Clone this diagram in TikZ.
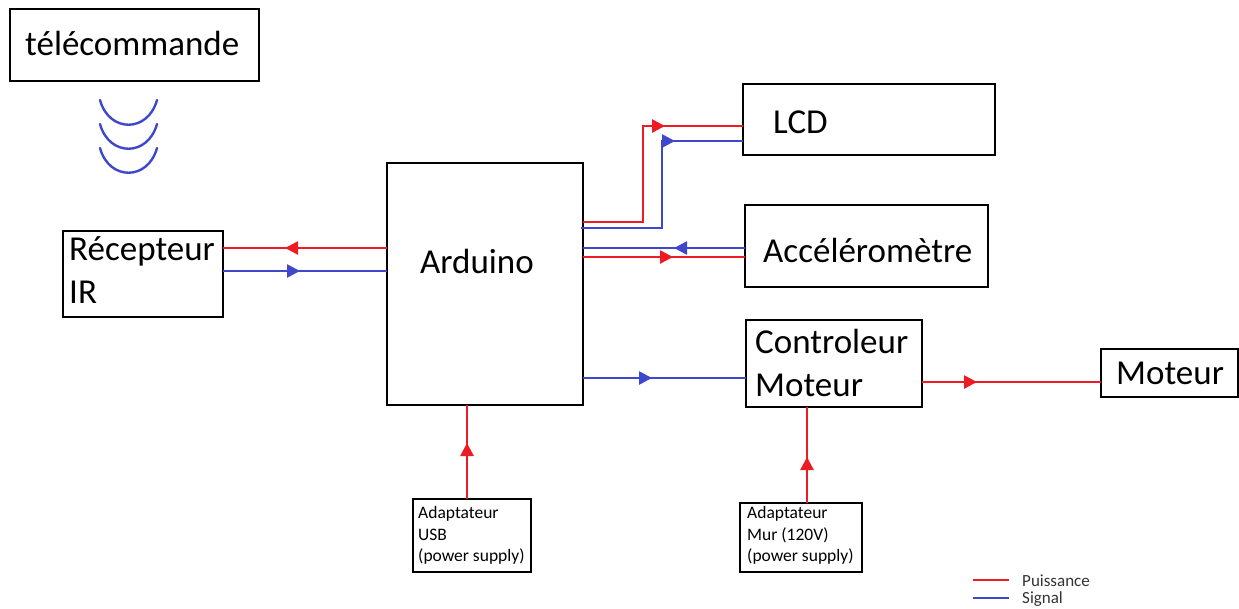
\documentclass[tikz,border=0pt]{standalone}
\usepackage{fontspec}
\setmainfont{Carlito}
\usetikzlibrary{arrows.meta,decorations.markings}
\definecolor{pred}{RGB}{237,28,36}
\definecolor{pblue}{RGB}{63,72,204}
\tikzset{
  box/.style={draw=black,line width=2.5pt,rectangle,inner sep=0pt,outer sep=0pt,anchor=north west},
  big/.style={anchor=base west,inner sep=0pt,font=\fontsize{35}{43}\selectfont},
  small/.style={anchor=base west,inner sep=0pt,font=\fontsize{17.5}{21.5}\selectfont},
  leg/.style={anchor=base west,inner sep=0pt,text=black!80,font=\fontsize{17}{18}\selectfont},
  pw/.style={draw=pred,line width=2.6pt},
  sg/.style={draw=pblue,line width=2.6pt},
  tipat/.style={postaction={decorate,decoration={markings,
     mark=at position #1 with {\arrow{Triangle[length=13pt,width=13pt]}}}}},
}
\begin{document}
\begin{tikzpicture}[x=1pt,y=-1pt]
\useasboundingbox (0,0) rectangle (1239,608);
% boxes
\node[box,minimum width=249pt,minimum height=72pt] (tele) at (10,9) {};
\node[box,minimum width=160pt,minimum height=86pt] (rec) at (63,231) {};
\node[box,minimum width=196pt,minimum height=242pt] (ard) at (387,163) {};
\node[box,minimum width=252pt,minimum height=71pt] (lcd) at (743,84) {};
\node[box,minimum width=243pt,minimum height=82pt] (acc) at (745,205) {};
\node[box,minimum width=176pt,minimum height=87pt] (ctl) at (746,320) {};
\node[box,minimum width=137pt,minimum height=48pt] (mot) at (1101,349) {};
\node[box,minimum width=118pt,minimum height=73pt] (usb) at (413,499) {};
\node[box,minimum width=122pt,minimum height=69pt] (mur) at (740,503) {};
% texts
\node[big] (t1) at (25,55) {télécommande};
\node[big] (t2) at (69,260) {Récepteur};
\node[big] (t3) at (69,303) {IR};
\node[big] (t4) at (420,273) {Arduino};
\node[big] (t5) at (773,133) {LCD};
\node[big] (t6) at (763,262) {Accéléromètre};
\node[big] (t7) at (755,353) {Controleur};
\node[big] (t8) at (755,396) {Moteur};
\node[big] (t9) at (1116,384) {Moteur};
\node[small] (s1) at (418,518) {Adaptateur};
\node[small] (s2) at (418,540) {USB};
\node[small] (s3) at (418,561) {(power supply)};
\node[small] (s4) at (747,518) {Adaptateur};
\node[small] (s5) at (747,540) {Mur (120V)};
\node[small] (s6) at (747,561) {(power supply)};
% IR waves
\foreach \k in {0,1,2}{
  \draw[pblue,line width=2.4pt,line cap=round]
    (100,100+24*\k) .. controls (109,100+24*\k+33) and (148,100+24*\k+33) .. (157,100+24*\k);
}
% connectors
\draw[pw,tipat=102pt] (ard.west |- 0,248) -- (rec.east |- 0,248);
\draw[sg,tipat=77pt] (rec.east |- 0,271) -- (ard.west |- 0,271);
\draw[pw,tipat=178pt] (ard.east |- 0,222) -- ++(60,0) |- (lcd.west |- 0,126);
\draw[sg,tipat=181pt] ([xshift=-2pt]ard.east |- 0,228) -- ++(81,0) |- (lcd.west |- 0,141);
\draw[sg,tipat=71pt] (acc.west |- 0,248) -- (ard.east |- 0,248);
\draw[pw,tipat=90pt] (ard.east |- 0,257) -- (acc.west |- 0,257);
\draw[sg,tipat=69pt] (ard.east |- 0,378) -- (ctl.west |- 0,378);
\draw[pw,tipat=55pt] (ctl.east |- 0,382) -- (mot.west |- 0,382);
\draw[pw,tipat=56pt] (usb.north -| 467,0) -- (ard.south -| 467,0);
\draw[pw,tipat=46pt] (mur.north -| 807,0) -- (ctl.south -| 807,0);
% legend
\coordinate (la) at (973,580); \coordinate (lb) at (1009,580);
\coordinate (lc) at (973,598); \coordinate (ld) at (1009,598);
\draw[pred,line width=2pt] (la) -- (lb);
\draw[pblue,line width=2pt] (lc) -- (ld);
\node[leg] (l1) at (1022,586) {Puissance};
\node[leg] (l2) at (1022,603) {Signal};
\end{tikzpicture}
\end{document}
